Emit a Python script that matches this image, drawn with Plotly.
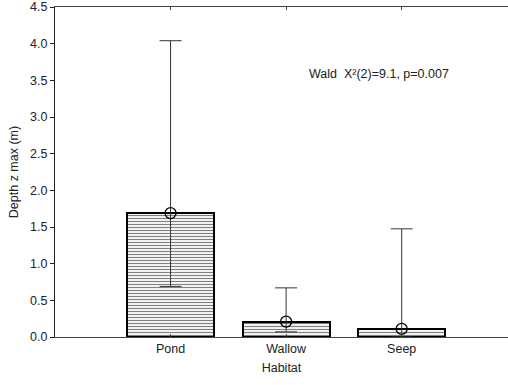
import plotly.graph_objects as go

# Habitat categories and depth statistics (m)
habitats = ["Pond", "Wallow", "Seep"]
mean_depth = [1.69, 0.21, 0.11]
upper_ci = [4.04, 0.67, 1.475]
lower_ci = [0.69, 0.07, 0.0]
y_ticks = [0.0, 0.5, 1.0, 1.5, 2.0, 2.5, 3.0, 3.5, 4.0, 4.5]

xpos = list(range(len(habitats)))
err_plus = [u - m for u, m in zip(upper_ci, mean_depth)]
err_minus = [m - l for m, l in zip(mean_depth, lower_ci)]

font = dict(family="Liberation Sans, Arial, sans-serif", size=12.5, color="#222")

fig = go.Figure()

fig.add_trace(go.Bar(
    x=xpos, y=mean_depth, width=0.753,
    marker=dict(
        color="white",
        line=dict(color="black", width=2),
        pattern=dict(shape="-", size=3, solidity=0.4, fgcolor="black", bgcolor="white"),
    ),
    showlegend=False, hoverinfo="skip",
))

fig.add_trace(go.Scatter(
    x=xpos, y=mean_depth, mode="markers",
    marker=dict(symbol="circle-open", size=11, color="black", line=dict(width=1.3)),
    error_y=dict(type="data", symmetric=False, array=err_plus, arrayminus=err_minus,
                 color="#333", thickness=1, width=11),
    showlegend=False,
))

fig.add_annotation(
    x=1.18, y=3.58, xref="x", yref="y", xanchor="left", yanchor="middle",
    text="Wald  Χ²(2)=9.1, p=0.007", showarrow=False, font=font,
)

fig.update_layout(
    width=508, height=385,
    margin=dict(l=55, r=0, t=7, b=48),
    paper_bgcolor="white", plot_bgcolor="white",
    font=font, bargap=0,
    xaxis=dict(
        range=[-1.0, 2.92], tickvals=xpos, ticktext=habitats, tickfont=font,
        showline=True, linecolor="#444", linewidth=1.2, mirror="ticks",
        ticks="inside", ticklen=3, tickcolor="#444",
        showgrid=False, zeroline=False,
        title=dict(text="Habitat", standoff=8, font=font),
    ),
    yaxis=dict(
        range=[0, 4.5], tickvals=y_ticks, ticktext=[f"{v:.1f}" for v in y_ticks], tickfont=font,
        ticklabeloverflow="allow",
        showline=True, linecolor="#222", linewidth=1.2,
        ticks="outside", ticklen=4, tickcolor="#222",
        showgrid=False, zeroline=False,
        title=dict(text="Depth z max (m)", standoff=8, font=font),
    ),
)

fig.write_html("out.html")
